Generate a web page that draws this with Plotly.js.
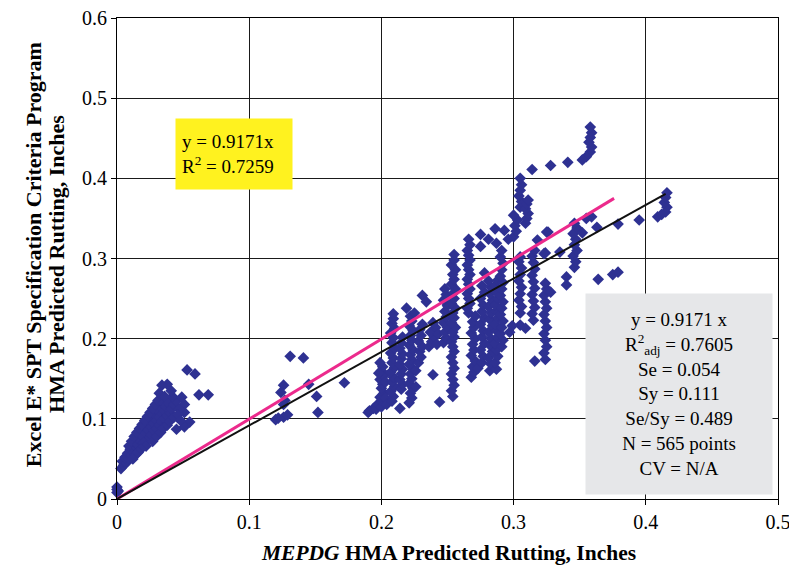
<!DOCTYPE html>
<html>
<head>
<meta charset="utf-8">
<script src="https://cdn.plot.ly/plotly-3.0.1.min.js"></script>
<style>html,body{margin:0;padding:0;background:#fff;}#chart{width:789px;height:565px;}</style>
</head>
<body>
<div id="chart"></div>
<script>
// Data (MEPDG predicted rutting vs Excel E* SPT program predicted rutting, inches)
const ptsOrigin = [[0,0.008],[0,0.012],[0,0.015],[0.001,0.01]];
const ptsLowBand = [
[0.003,0.038],[0.005,0.042],[0.004,0.047],[0.007,0.045],[0.006,0.052],[0.009,0.05],[0.008,0.057],[0.011,0.055],
[0.01,0.062],[0.012,0.06],[0.013,0.066],[0.009,0.066],[0.015,0.064],[0.014,0.07],[0.011,0.072],[0.016,0.068],
[0.017,0.075],[0.013,0.078],[0.018,0.072],[0.019,0.08],[0.015,0.083],[0.02,0.077],[0.021,0.085],[0.017,0.088],
[0.022,0.082],[0.023,0.09],[0.019,0.093],[0.024,0.086],[0.025,0.095],[0.021,0.098],[0.026,0.09],[0.027,0.1],
[0.023,0.103],[0.028,0.094],[0.029,0.105],[0.025,0.108],[0.03,0.098],[0.031,0.11],[0.027,0.113],[0.032,0.102],
[0.033,0.115],[0.029,0.118],[0.034,0.106],[0.031,0.123],[0.035,0.12],[0.036,0.11],[0.024,0.075],[0.026,0.08],
[0.028,0.085],[0.03,0.088],[0.032,0.092],[0.034,0.097],[0.036,0.1],[0.038,0.104],[0.04,0.108],[0.037,0.115],
[0.039,0.12],[0.041,0.112],[0.043,0.118],[0.045,0.122],[0.042,0.128],[0.02,0.07],[0.022,0.066],[0.018,0.062],
[0.016,0.058],[0.014,0.055],[0.012,0.05],[0.027,0.072],[0.03,0.078],[0.033,0.083],[0.035,0.088],[0.038,0.092],
[0.04,0.097],[0.043,0.102],[0.032,0.132],[0.038,0.143],[0.034,0.142],[0.053,0.161],[0.059,0.156],[0.062,0.13],
[0.069,0.13],[0.049,0.127],[0.051,0.118],[0.051,0.108],[0.055,0.096],[0.051,0.09],[0.045,0.087],[0.047,0.112],
[0.041,0.135],[0.036,0.128],[0.046,0.105],[0.048,0.098]
];
const ptsMid = [
[0.131,0.178],[0.141,0.176],[0.126,0.142],[0.124,0.133],[0.127,0.123],[0.126,0.118],[0.145,0.143],[0.151,0.128],
[0.172,0.145],[0.152,0.108],[0.126,0.102],[0.12,0.099],[0.122,0.101],[0.129,0.105],[0.191,0.11]
];
const ptsMain = [
[0.19,0.108],[0.194,0.113],[0.196,0.112],[0.197,0.118],
[0.2,0.115],[0.201,0.121],[0.199,0.127],[0.202,0.132],[0.2,0.138],[0.201,0.143],[0.199,0.149],[0.202,0.154],
[0.2,0.16],[0.201,0.165],[0.199,0.17],[0.203,0.126],[0.203,0.146],[0.198,0.157],[0.204,0.118],
[0.208,0.122],[0.209,0.128],[0.207,0.134],[0.21,0.14],[0.208,0.146],[0.209,0.152],[0.207,0.158],[0.21,0.164],
[0.208,0.17],[0.209,0.176],[0.207,0.182],[0.21,0.188],[0.208,0.195],[0.209,0.201],[0.207,0.207],[0.21,0.213],
[0.208,0.219],[0.209,0.225],[0.209,0.231],
[0.214,0.113],[0.215,0.137],[0.216,0.143],[0.214,0.149],[0.215,0.156],[0.216,0.162],[0.214,0.168],[0.215,0.175],
[0.216,0.181],[0.214,0.188],[0.215,0.195],[0.216,0.202],
[0.221,0.12],[0.223,0.126],[0.222,0.132],[0.224,0.138],[0.221,0.144],[0.223,0.15],[0.222,0.156],[0.224,0.162],
[0.221,0.168],[0.223,0.174],[0.222,0.18],[0.224,0.186],[0.221,0.192],[0.223,0.198],[0.222,0.204],[0.224,0.21],
[0.221,0.216],[0.223,0.222],[0.222,0.228],[0.219,0.238],[0.225,0.232],[0.226,0.14],[0.226,0.16],
[0.231,0.254],[0.234,0.246],
[0.228,0.17],[0.23,0.177],[0.229,0.184],[0.231,0.19],[0.228,0.197],[0.23,0.204],[0.229,0.211],[0.231,0.218],
[0.236,0.19],[0.238,0.196],[0.24,0.202],[0.237,0.208],[0.241,0.214],[0.239,0.22],[0.242,0.193],[0.239,0.155],
[0.244,0.121],[0.243,0.206],
[0.247,0.195],[0.249,0.201],[0.248,0.208],[0.25,0.214],[0.247,0.22],[0.249,0.227],[0.248,0.234],[0.25,0.241],
[0.247,0.248],[0.249,0.255],[0.248,0.262],
[0.253,0.196],[0.255,0.202],[0.254,0.208],[0.256,0.214],[0.253,0.22],[0.255,0.226],[0.254,0.232],[0.256,0.238],
[0.253,0.244],[0.255,0.25],[0.254,0.256],[0.256,0.262],[0.253,0.268],[0.255,0.274],[0.254,0.28],[0.256,0.286],
[0.253,0.292],[0.255,0.298],[0.255,0.305],
[0.254,0.128],[0.253,0.135],[0.255,0.142],[0.254,0.149],[0.253,0.156],[0.255,0.163],[0.254,0.17],[0.253,0.177],
[0.255,0.184],[0.254,0.19],
[0.266,0.232],[0.265,0.238],[0.267,0.244],[0.266,0.25],[0.265,0.256],[0.267,0.262],[0.266,0.268],[0.265,0.274],
[0.267,0.28],[0.266,0.286],[0.265,0.292],[0.267,0.298],[0.266,0.304],[0.265,0.31],[0.267,0.317],[0.266,0.324],
[0.268,0.152],[0.27,0.158],[0.269,0.165],[0.271,0.172],[0.268,0.179],[0.27,0.186],[0.269,0.193],[0.271,0.2],
[0.268,0.207],[0.27,0.214],[0.269,0.221],[0.271,0.228],[0.273,0.163],
[0.275,0.33],[0.275,0.315],[0.281,0.324],[0.286,0.337],[0.287,0.319],[0.293,0.335],[0.296,0.324],[0.278,0.282],
[0.276,0.17],[0.277,0.178],[0.275,0.186],[0.278,0.194],[0.276,0.202],[0.277,0.21],[0.275,0.218],[0.278,0.226],
[0.276,0.234],[0.277,0.242],[0.275,0.25],[0.278,0.258],[0.276,0.266],
[0.282,0.16],[0.283,0.168],[0.281,0.176],[0.284,0.184],[0.282,0.192],[0.283,0.2],[0.281,0.208],[0.284,0.216],
[0.282,0.224],[0.283,0.232],[0.281,0.24],[0.284,0.248],[0.282,0.256],[0.283,0.264],[0.281,0.272],
[0.287,0.162],[0.286,0.17],[0.288,0.178],[0.287,0.186],[0.286,0.194],[0.288,0.202],[0.287,0.21],[0.286,0.218],
[0.288,0.226],[0.287,0.234],[0.286,0.242],[0.288,0.25],[0.287,0.258],[0.286,0.266],[0.288,0.273],
[0.291,0.19],[0.292,0.198],[0.29,0.206],[0.291,0.214],[0.292,0.222],[0.29,0.23],[0.291,0.238],[0.292,0.246],
[0.29,0.254],[0.291,0.262],[0.292,0.27],[0.29,0.278],[0.291,0.286],[0.292,0.294],[0.29,0.302],[0.291,0.31],
[0.297,0.208],[0.305,0.217],[0.309,0.213],[0.299,0.216],
[0.3,0.327],[0.302,0.334],[0.301,0.341],[0.303,0.348],[0.3,0.354],
[0.305,0.364],[0.306,0.371],[0.304,0.378],[0.305,0.385],[0.306,0.392],[0.305,0.4],
[0.309,0.344],[0.31,0.35],[0.311,0.356],[0.309,0.362],[0.31,0.368],[0.311,0.373],
[0.314,0.411],[0.328,0.416],
[0.305,0.232],[0.306,0.24],[0.304,0.248],[0.305,0.256],[0.306,0.264],[0.304,0.272],[0.305,0.28],[0.306,0.288],
[0.304,0.296],[0.305,0.302],
[0.315,0.223],[0.314,0.231],[0.316,0.239],[0.315,0.247],[0.314,0.255],[0.316,0.263],[0.315,0.271],[0.314,0.279],
[0.316,0.287],[0.315,0.295],[0.314,0.303],[0.316,0.31],
[0.318,0.323],[0.324,0.307],[0.326,0.333],[0.316,0.172],
[0.324,0.174],[0.323,0.182],[0.325,0.19],[0.324,0.198],[0.323,0.206],[0.325,0.214],[0.324,0.222],[0.323,0.23],
[0.325,0.238],[0.324,0.246],[0.323,0.254],[0.325,0.262],[0.324,0.269],[0.328,0.258]
];
const ptsHigh = [
[0.358,0.433],[0.359,0.439],[0.357,0.445],[0.358,0.451],[0.359,0.457],[0.358,0.464],[0.355,0.427],[0.352,0.423],
[0.341,0.42],
[0.363,0.339],[0.359,0.352],[0.355,0.35],[0.379,0.343],[0.395,0.348],[0.409,0.352],
[0.415,0.358],[0.416,0.364],[0.414,0.37],[0.415,0.376],[0.416,0.382],[0.412,0.355],
[0.346,0.289],[0.347,0.296],[0.345,0.303],[0.348,0.31],[0.346,0.317],[0.347,0.324],[0.345,0.331],[0.348,0.338],
[0.346,0.344],[0.352,0.332],
[0.335,0.308],[0.323,0.306],[0.325,0.333],[0.34,0.277],[0.34,0.267],[0.364,0.274],[0.375,0.28],[0.379,0.283]
];
// Trend lines
const fitX = [0, 0.415];
const fitSlope = 0.9171;
const pinkX = [0, 0.376];
const pinkY = [0, 0.375];
const xTicks = [0, 0.1, 0.2, 0.3, 0.4, 0.5];
const xTickText = ['0', '0.1', '0.2', '0.3', '0.4', '0.5'];
const yTicks = [0, 0.1, 0.2, 0.3, 0.4, 0.5, 0.6];
const yTickText = ['0', '0.1', '0.2', '0.3', '0.4', '0.5', '0.6'];
const xTitle = '<b><i>MEPDG</i> HMA Predicted Rutting, Inches</b>';
const yTitle1 = '<b>Excel E* SPT Specification Criteria Program</b>';
const yTitle2 = '<b>HMA Predicted Rutting, Inches</b>';

const allPts = ptsOrigin.concat(ptsLowBand, ptsMid, ptsMain, ptsHigh);
const navy = '#2E3192';
const serif = '"Liberation Serif", "Times New Roman", serif';

const traces = [
  {
    type: 'scatter', mode: 'markers',
    x: allPts.map(p => p[0]), y: allPts.map(p => p[1]),
    marker: {symbol: 'diamond', size: 9, color: navy, line: {width: 0}},
    cliponaxis: false, hoverinfo: 'x+y', showlegend: false
  },
  {
    type: 'scatter', mode: 'lines', x: pinkX, y: pinkY,
    line: {color: '#EC2A8C', width: 3}, showlegend: false
  },
  {
    type: 'scatter', mode: 'lines', x: fitX, y: fitX.map(v => v * fitSlope),
    line: {color: '#111111', width: 2}, showlegend: false
  }
];

const axisCommon = {
  showgrid: true, gridcolor: '#1a1a1a', gridwidth: 1,
  showline: true, linecolor: '#000', linewidth: 1, mirror: true,
  ticks: 'outside', ticklen: 5, tickcolor: '#000',
  zeroline: false, ticklabeloverflow: 'allow',
  tickfont: {family: serif, size: 20, color: '#000'}
};

const layout = {
  width: 789, height: 565,
  margin: {l: 117, r: 11, t: 18, b: 66},
  paper_bgcolor: '#fff', plot_bgcolor: '#fff',
  showlegend: false,
  xaxis: Object.assign({}, axisCommon, {range: [0, 0.5], tickvals: xTicks, ticktext: xTickText}),
  yaxis: Object.assign({}, axisCommon, {range: [0, 0.6], tickvals: yTicks, ticktext: yTickText}),
  annotations: [
    {
      xref: 'paper', yref: 'paper', x: 0.5008, y: -0.1123, xanchor: 'center', yanchor: 'middle',
      text: xTitle, showarrow: false, font: {family: serif, size: 21.5, color: '#000'}
    },
    {
      xref: 'paper', yref: 'paper', x: -0.127, y: 0.507, xanchor: 'center', yanchor: 'middle',
      text: yTitle1, textangle: -90, showarrow: false, font: {family: serif, size: 22, color: '#000'}
    },
    {
      xref: 'paper', yref: 'paper', x: -0.0908, y: 0.4886, xanchor: 'center', yanchor: 'middle',
      text: yTitle2, textangle: -90, showarrow: false, font: {family: serif, size: 22, color: '#000'}
    },
    {
      xref: 'paper', yref: 'paper', x: 0.0877, y: 0.792, xanchor: 'left', yanchor: 'top',
      text: 'y = 0.9171x<br>R<sup>2</sup> = 0.7259', align: 'left', showarrow: false,
      bgcolor: '#FFF21F', width: 104, height: 58, borderpad: 6,
      font: {family: serif, size: 19, color: '#000'}
    },
    {
      xref: 'paper', yref: 'paper', x: 0.708, y: 0.428, xanchor: 'left', yanchor: 'top',
      text: 'y = 0.9171 x<br>R<sup>2</sup><sub>adj</sub> = 0.7605<br>Se = 0.054<br>Sy = 0.111<br>Se/Sy = 0.489<br>N = 565 points<br>CV = N/A',
      align: 'center', showarrow: false,
      bgcolor: '#E6E7E9', width: 174, height: 188, borderpad: 6,
      font: {family: serif, size: 19, color: '#000'}
    }
  ]
};

Plotly.newPlot('chart', traces, layout, {displayModeBar: false, staticPlot: true});
</script>
</body>
</html>
